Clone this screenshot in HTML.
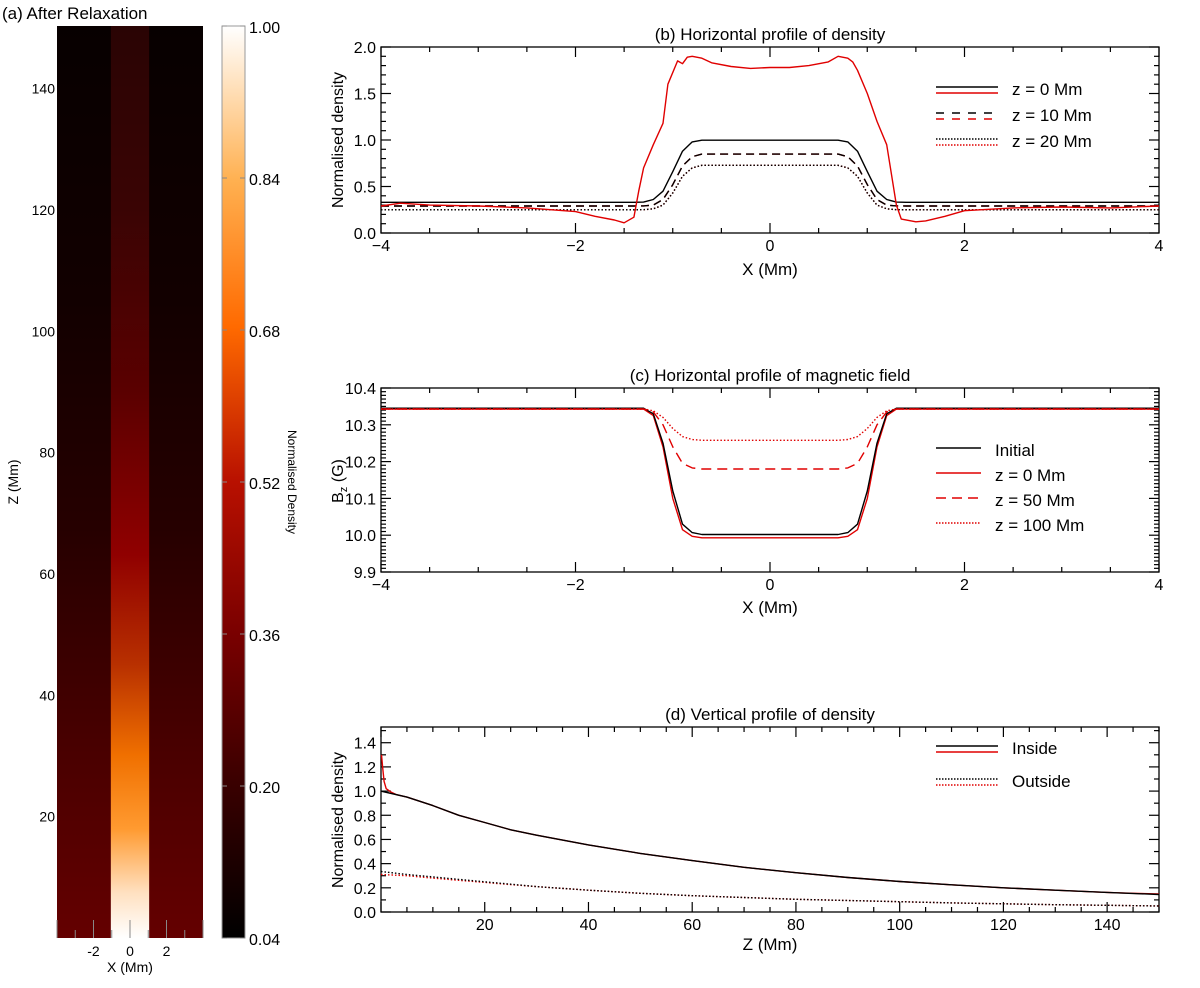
<!DOCTYPE html>
<html><head><meta charset="utf-8"><style>
body{margin:0;background:#fff;}
svg text{font-family:"Liberation Sans",Arial,sans-serif;fill:#000;}
</style></head><body>
<svg id="fig" width="1200" height="983" viewBox="0 0 1200 983" xmlns="http://www.w3.org/2000/svg">
<defs>
<linearGradient id="cmap" x1="0" y1="1" x2="0" y2="0">
<stop offset="0" stop-color="#000"/><stop offset="0.17" stop-color="#3a0000"/><stop offset="0.33" stop-color="#780000"/><stop offset="0.5" stop-color="#b81000"/><stop offset="0.67" stop-color="#ff6a00"/><stop offset="0.83" stop-color="#ffb050"/><stop offset="1" stop-color="#fff"/>
</linearGradient>
<linearGradient id="outG" x1="0" y1="1" x2="0" y2="0">
<stop offset="0" stop-color="#640000"/><stop offset="0.2" stop-color="#4a0000"/><stop offset="0.45" stop-color="#260000"/><stop offset="0.7" stop-color="#120000"/><stop offset="1" stop-color="#070000"/>
</linearGradient>
<linearGradient id="tubeG" x1="0" y1="1" x2="0" y2="0">
<stop offset="0" stop-color="#ffffff"/><stop offset="0.05" stop-color="#ffe0c0"/><stop offset="0.12" stop-color="#ff9a30"/><stop offset="0.2" stop-color="#f07000"/><stop offset="0.3" stop-color="#b83000"/><stop offset="0.42" stop-color="#900000"/><stop offset="0.6" stop-color="#5a0000"/><stop offset="0.8" stop-color="#3a0404"/><stop offset="1" stop-color="#2a0404"/>
</linearGradient>
</defs>
</svg>
<script>
// ---- panel b data ----
const bX=[-4,-1.4,-1.3,-1.2,-1.1,-1.0,-0.9,-0.8,-0.7,0.7,0.8,0.9,1.0,1.1,1.2,1.3,1.4,4];
const bZ0=[0.33,0.33,0.332,0.36,0.45,0.66,0.88,0.98,0.998,0.998,0.98,0.88,0.66,0.45,0.36,0.332,0.33,0.33];
const bZ10=[0.29,0.29,0.291,0.30,0.36,0.52,0.72,0.82,0.848,0.848,0.82,0.72,0.52,0.36,0.30,0.291,0.29,0.29];
const bZ20=[0.25,0.25,0.251,0.26,0.30,0.43,0.61,0.70,0.728,0.728,0.70,0.61,0.43,0.30,0.26,0.251,0.25,0.25];
const bRX=[-4,-3.8,-3.5,-3,-2.5,-2,-1.8,-1.6,-1.5,-1.4,-1.35,-1.3,-1.2,-1.1,-1.05,-0.95,-0.9,-0.85,-0.8,-0.7,-0.6,-0.4,-0.2,0,0.2,0.4,0.6,0.7,0.8,0.85,0.9,1.0,1.1,1.2,1.3,1.35,1.5,1.6,1.8,2.0,2.5,3,3.5,4];
const bRY=[0.29,0.32,0.30,0.29,0.27,0.23,0.18,0.14,0.11,0.17,0.45,0.70,0.95,1.18,1.60,1.85,1.82,1.89,1.90,1.88,1.83,1.79,1.77,1.78,1.78,1.80,1.84,1.90,1.88,1.84,1.75,1.50,1.20,0.95,0.30,0.15,0.12,0.13,0.18,0.24,0.27,0.28,0.27,0.29];
// ---- panel c data ----
const cX=[-4,-1.3,-1.2,-1.1,-1.0,-0.9,-0.8,-0.7,0.7,0.8,0.9,1.0,1.1,1.2,1.3,4];
const cInit=[10.345,10.345,10.33,10.25,10.12,10.03,10.007,10.002,10.002,10.007,10.03,10.12,10.25,10.33,10.345,10.345];
const cZ0=[10.343,10.343,10.325,10.24,10.10,10.015,9.997,9.993,9.993,9.997,10.015,10.10,10.24,10.325,10.343,10.343];
const cZ50=[10.343,10.343,10.335,10.30,10.24,10.195,10.183,10.18,10.18,10.183,10.195,10.24,10.30,10.335,10.343,10.343];
const cZ100=[10.343,10.343,10.338,10.32,10.29,10.268,10.26,10.258,10.258,10.26,10.268,10.29,10.32,10.338,10.343,10.343];
// ---- panel d data ----
const dZ=[0,5,10,15,20,25,30,40,50,60,70,80,90,100,110,120,130,140,150];
const dIn=[1.0,0.95,0.88,0.80,0.74,0.68,0.635,0.555,0.485,0.425,0.37,0.325,0.285,0.252,0.225,0.2,0.18,0.162,0.145];
const dInRZ=[0.1,0.3,0.6,1,2,3,5,10,15,20,25,30,40,50,60,70,80,90,100,110,120,130,140,145,150];
const dInR=[1.3,1.2,1.08,1.02,0.99,0.97,0.95,0.88,0.80,0.74,0.68,0.635,0.555,0.485,0.425,0.37,0.325,0.285,0.252,0.225,0.2,0.18,0.162,0.155,0.15];
const dOut=[0.335,0.31,0.29,0.27,0.25,0.23,0.21,0.18,0.155,0.135,0.12,0.105,0.095,0.085,0.075,0.068,0.06,0.055,0.05];
const dOutR=[0.31,0.30,0.28,0.262,0.245,0.227,0.21,0.18,0.155,0.135,0.12,0.105,0.095,0.085,0.075,0.068,0.06,0.055,0.05];
// ---- colorbar ----
const cbTicks=["1.00","0.84","0.68","0.52","0.36","0.20","0.04"];

const NS="http://www.w3.org/2000/svg";
const svg=document.getElementById('fig');
function el(t,a,p){const e=document.createElementNS(NS,t);for(const k in a)e.setAttribute(k,a[k]);(p||svg).appendChild(e);return e;}
function txt(x,y,s,size,anchor,name){const t=el('text',{x:x,y:y,'font-size':size,'text-anchor':anchor||'middle'});t.textContent=s;


return t;}
function lin(a,b,c,d){return v=>c+(v-a)/(b-a)*(d-c);}
function line(xs,ys,sx,sy,color,dash,name,w){
  const pts=xs.map((x,i)=>sx(x).toFixed(1)+','+sy(ys[i]).toFixed(1)).join(' ');
  const p=el('polyline',{points:pts,fill:'none',stroke:color,'stroke-width':w||1.4,'stroke-linejoin':'round'});
  if(dash)p.setAttribute('stroke-dasharray',dash);
  
  
}
function axes(L,R,T,B,x0,x1,y0,y1,xMaj,xMin,yMaj,yMin,xfmt,yfmt,pre){
  el('rect',{x:L,y:T,width:R-L,height:B-T,fill:'none',stroke:'#000','stroke-width':1.3});
  const sx=lin(x0,x1,L,R),sy=lin(y0,y1,B,T);
  for(let v=x0;v<=x1+1e-9;v+=xMin){const big=Math.abs(v/xMaj-Math.round(v/xMaj))<1e-6;const l=big?10:5;
    el('line',{x1:sx(v),x2:sx(v),y1:B,y2:B-l,stroke:'#000','stroke-width':1.2});
    el('line',{x1:sx(v),x2:sx(v),y1:T,y2:T+l,stroke:'#000','stroke-width':1.2});
    if(big)txt(sx(v),B+18,xfmt(v),16,'middle',pre+'-x-tick-label');}
  for(let v=y0;v<=y1+1e-9;v+=yMin){const big=Math.abs(v/yMaj-Math.round(v/yMaj))<1e-6;const l=big?10:5;
    el('line',{x1:L,x2:L+l,y1:sy(v),y2:sy(v),stroke:'#000','stroke-width':1.2});
    el('line',{x1:R,x2:R-l,y1:sy(v),y2:sy(v),stroke:'#000','stroke-width':1.2});
    if(big)txt(L-5,sy(v)+6,yfmt(v),16,'end',pre+'-y-tick-label');}
  return [sx,sy];
}
const xf=v=>{const r=Math.round(v);return r<0?'\u2212'+(-r):String(r);};
function legend(x,y,items){items.forEach((it,i)=>{const yy=y+i*it.gap;
  it.lines.forEach((ln,j)=>{const l=el('line',{x1:x,x2:x+it.len,y1:yy+j*6,y2:yy+j*6,stroke:ln.c,'stroke-width':1.6});if(ln.d)l.setAttribute('stroke-dasharray',ln.d);
  
  });
  txt(x+it.len+14,yy+8,it.label,17,'start','legend-entry');});}

// ===== Panel (a) =====
(function(){
  const L=57,R=203,T=26,B=938;
  const sx=lin(-4,4,L,R),sz=lin(0,150,B,T+2);
  const o=el('rect',{x:L,y:T,width:R-L,height:B-T,fill:'url(#outG)'});
  
  
  const tb=el('rect',{x:sx(-1.05),y:T,width:sx(1.05)-sx(-1.05),height:B-T,fill:'url(#tubeG)'});
  
  
  [-4,-3,-2,-1,0,1,2,3,4].forEach(v=>{const big=v%2===0;el('line',{x1:sx(v),x2:sx(v),y1:B,y2:B-(big?18:8),stroke:'#888','stroke-width':1});if(big&&Math.abs(v)<4)txt(sx(v),B+18,v<0?'-'+(-v):String(v),14,'middle','a-x-tick-label');});
  [20,40,60,80,100,120,140].forEach(v=>txt(L-2,sz(v)+5,String(v),14,'end','a-y-tick-label'));
  txt(130,972,'X (Mm)',14,'middle','a-x-axis-title');
  const yt=txt(0,0,'Z (Mm)',14,'middle','a-y-axis-title');yt.setAttribute('transform','translate(18,482) rotate(-90)');
  txt(2,19,'(a) After Relaxation',17,'start','a-title');
  const cb=el('rect',{x:222,y:T,width:23,height:B-T,fill:'url(#cmap)',stroke:'#999','stroke-width':1});
  
  
  cbTicks.forEach((s,i)=>{const y=T+i*(B-T)/6;txt(249,y+7,s,16,'start','colorbar-tick-label');el('line',{x1:222,x2:227,y1:y,y2:y,stroke:'#888'});el('line',{x1:240,x2:245,y1:y,y2:y,stroke:'#888'});});
  const ct=txt(0,0,'Normalised Density',12,'middle','colorbar-title');ct.setAttribute('transform','translate(288,482) rotate(90)');
})();

// ===== Panel (b) =====
(function(){
  const [sx,sy]=axes(381,1159,47,233,-4,4,0,2,2,0.5,0.5,0.1,xf,v=>v.toFixed(1),'b');
  line(bX,bZ20,sx,sy,'#e00000','1.5,2','b-z20-red');
  line(bX,bZ20,sx,sy,'#000','1.5,2','b-z20-black');
  line(bX,bZ10,sx,sy,'#e00000','8,5','b-z10-red');
  line(bX,bZ10,sx,sy,'#000','8,5','b-z10-black');
  line(bX,bZ0,sx,sy,'#000',null,'b-z0-black');
  line(bRX,bRY,sx,sy,'#e00000',null,'b-z0-red');
  txt(770,40,'(b) Horizontal profile of density',17,'middle','b-title');
  txt(770,275,'X (Mm)',17,'middle','b-x-axis-title');
  const yt=txt(0,0,'Normalised density',16,'middle','b-y-axis-title');yt.setAttribute('transform','translate(343,140) rotate(-90)');
  legend(936,87,[{gap:26,len:62,label:'z = 0 Mm',lines:[{c:'#000'},{c:'#e00000'}]},{gap:26,len:62,label:'z = 10 Mm',lines:[{c:'#000',d:'8,8'},{c:'#e00000',d:'8,8'}]},{gap:26,len:62,label:'z = 20 Mm',lines:[{c:'#000',d:'1.5,1.5'},{c:'#e00000',d:'1.5,1.5'}]}]);
})();

// ===== Panel (c) =====
(function(){
  const [sx,sy]=axes(381,1159,388,572,-4,4,9.9,10.4,2,0.5,0.1,0.01,xf,v=>v.toFixed(1),'c');
  line(cX,cZ0,sx,sy,'#e00000',null,'c-z0-red');
  line(cX,cInit,sx,sy,'#000',null,'c-initial-black');
  line(cX,cZ50,sx,sy,'#e00000','10,6','c-z50-red');
  line(cX,cZ100,sx,sy,'#e00000','1.5,2','c-z100-red');
  txt(770,381,'(c) Horizontal profile of magnetic field',17,'middle','c-title');
  txt(770,613,'X (Mm)',17,'middle','c-x-axis-title');
  const yt=el('text',{x:0,y:0,'font-size':16,'text-anchor':'middle',transform:'translate(343,481) rotate(-90)'});
  yt.innerHTML='B<tspan font-size="11" dy="4">z</tspan><tspan dy="-4"> (G)</tspan>';
  
  
  legend(936,448,[{gap:25,len:45,label:'Initial',lines:[{c:'#000'}]},{gap:25,len:45,label:'z = 0 Mm',lines:[{c:'#e00000'}]},{gap:25,len:45,label:'z = 50 Mm',lines:[{c:'#e00000',d:'10,6'}]},{gap:25,len:45,label:'z = 100 Mm',lines:[{c:'#e00000',d:'1.5,1.5'}]}]);
})();

// ===== Panel (d) =====
(function(){
  const [sx,sy]=axes(381,1159,727,912,0,150,0,1.53,20,5,0.2,0.1,v=>v===0?'':String(Math.round(v)),v=>v.toFixed(1),'d');
  line(dZ,dOutR,sx,sy,'#e00000','1.5,2','d-outside-red');
  line(dZ,dOut,sx,sy,'#000','1.5,2','d-outside-black');
  line(dInRZ,dInR,sx,sy,'#e00000',null,'d-inside-red');
  line(dZ,dIn,sx,sy,'#000',null,'d-inside-black');
  txt(770,720,'(d) Vertical profile of density',17,'middle','d-title');
  txt(770,950,'Z (Mm)',17,'middle','d-x-axis-title');
  const yt=txt(0,0,'Normalised density',16,'middle','d-y-axis-title');yt.setAttribute('transform','translate(343,820) rotate(-90)');
  legend(936,746,[{gap:33,len:62,label:'Inside',lines:[{c:'#000'},{c:'#e00000'}]},{gap:33,len:62,label:'Outside',lines:[{c:'#000',d:'1.5,1.5'},{c:'#e00000',d:'1.5,1.5'}]}]);
})();
</script>
</body></html>
